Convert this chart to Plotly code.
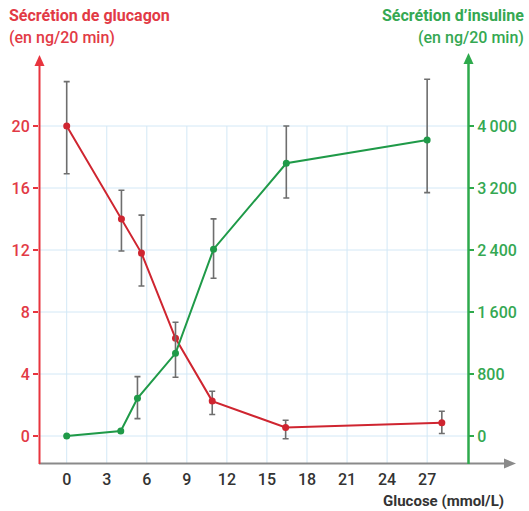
import plotly.graph_objects as go

# ---- data ----
glucose_glucagon = [0, 4.1, 5.6, 8.15, 10.9, 16.4, 28.1]
glucagon = [20.0, 14.0, 11.8, 6.3, 2.25, 0.55, 0.85]
glucagon_err_plus = [2.86, 1.85, 2.45, 0, 0.64, 0.47, 0.75]
glucagon_err_minus = [3.08, 2.06, 2.12, 0, 0.86, 0.73, 0.69]

glucose_insulin = [0, 4.05, 5.3, 8.15, 11.0, 16.45, 27.0]
insulin = [0, 64, 486, 1067, 2410, 3519, 3819]
insulin_err_plus = [0, 0, 280, 400, 392, 481, 784]
insulin_err_minus = [0, 0, 262, 308, 375, 448, 679]

x_ticks = [0, 3, 6, 9, 12, 15, 18, 21, 24, 27]
left_ticks = [0, 4, 8, 12, 16, 20]
right_ticks = [0, 800, 1600, 2400, 3200, 4000]
right_ticktext = ["0", "800", "1\u2009600", "2\u2009400", "3\u2009200", "4\u2009000"]

# ---- styling ----
RED_LINE = "#cf2530"
RED_TXT = "#e23a45"
GREEN_LINE = "#1f9a48"
GREEN_TXT = "#35a852"
GRID = "#d3e8f6"
FONT = "Roboto"

W, H = 529, 511
L, R, T, B = 39, 61, 50, 48
XR = [-2.075, 30.06]
YR = [-1.742, 24.903]
SCALE = 200

fig = go.Figure()

fig.add_trace(go.Scatter(
    x=glucose_glucagon, y=glucagon, mode="lines+markers",
    line=dict(color=RED_LINE, width=2), marker=dict(color=RED_LINE, size=7),
    error_y=dict(type="data", symmetric=False, array=glucagon_err_plus,
                 arrayminus=glucagon_err_minus, color="#6e6e6e", thickness=1.6, width=3),
    showlegend=False, yaxis="y"))

fig.add_trace(go.Scatter(
    x=glucose_insulin, y=insulin, mode="lines+markers",
    line=dict(color=GREEN_LINE, width=2), marker=dict(color=GREEN_LINE, size=7),
    error_y=dict(type="data", symmetric=False, array=insulin_err_plus,
                 arrayminus=insulin_err_minus, color="#6e6e6e", thickness=1.6, width=3),
    showlegend=False, yaxis="y2"))

shapes = []
# grid
for xv in x_ticks:
    shapes.append(dict(type="line", xref="x", yref="y", x0=xv, x1=xv, y0=YR[0], y1=20,
                       line=dict(color=GRID, width=1), layer="below"))
for yv in left_ticks:
    shapes.append(dict(type="line", xref="x", yref="y", x0=XR[0], x1=XR[1], y0=yv, y1=yv,
                       line=dict(color=GRID, width=1), layer="below"))

pw, ph = W - L - R, H - T - B
def px(p):
    return (p - L) / pw
def py(p):
    return (H - B - p) / ph

# x axis with arrow
shapes.append(dict(type="line", xref="paper", yref="paper", x0=px(39), x1=px(508),
                   y0=py(463.5), y1=py(463.5), line=dict(color="#8a8a8a", width=2), layer="above"))
shapes.append(dict(type="path", xref="paper", yref="paper",
                   path=f"M {px(516)},{py(463.5)} L {px(504)},{py(458.5)} L {px(504)},{py(468.5)} Z",
                   fillcolor="#8a8a8a", line=dict(width=0), layer="above"))
# red axis
shapes.append(dict(type="line", xref="paper", yref="paper", x0=px(39.5), x1=px(39.5),
                   y0=py(464), y1=py(64), line=dict(color="#e8343e", width=2), layer="above"))
shapes.append(dict(type="path", xref="paper", yref="paper",
                   path=f"M {px(39.5)},{py(55)} L {px(34.5)},{py(66)} L {px(44.5)},{py(66)} Z",
                   fillcolor="#e8343e", line=dict(width=0), layer="above"))
# green axis
shapes.append(dict(type="line", xref="paper", yref="paper", x0=px(468.5), x1=px(468.5),
                   y0=py(464), y1=py(62), line=dict(color="#2eaa4c", width=2.5), layer="above"))
shapes.append(dict(type="path", xref="paper", yref="paper",
                   path=f"M {px(468.5)},{py(53)} L {px(463.5)},{py(64)} L {px(473.5)},{py(64)} Z",
                   fillcolor="#2eaa4c", line=dict(width=0), layer="above"))

annotations = [
    dict(text="Sécrétion de glucagon", xref="paper", yref="paper", x=px(7), y=py(15),
         xanchor="left", yanchor="middle", showarrow=False,
         font=dict(family=FONT, size=16, color=RED_TXT, weight="bold")),
    dict(text="(en ng/20 min)", xref="paper", yref="paper", x=px(7), y=py(38),
         xanchor="left", yanchor="middle", showarrow=False,
         font=dict(family=FONT, size=16, color=RED_TXT, weight=500)),
    dict(text="Sécrétion d\u2019insuline", xref="paper", yref="paper", x=px(526), y=py(15),
         xanchor="right", yanchor="middle", showarrow=False,
         font=dict(family=FONT, size=16, color=GREEN_TXT, weight="bold")),
    dict(text="(en ng/20 min)", xref="paper", yref="paper", x=px(526), y=py(38),
         xanchor="right", yanchor="middle", showarrow=False,
         font=dict(family=FONT, size=16, color=GREEN_TXT, weight=500)),
    dict(text="Glucose (mmol/L)", xref="paper", yref="paper", x=px(506), y=py(501),
         xanchor="right", yanchor="middle", showarrow=False,
         font=dict(family=FONT, size=15, color="#333333", weight="bold")),
]

fig.update_layout(
    width=W, height=H, margin=dict(l=L, r=R, t=T, b=B, pad=0),
    paper_bgcolor="white", plot_bgcolor="white",
    font=dict(family=FONT),
    shapes=shapes, annotations=annotations,
    xaxis=dict(range=XR, tickvals=x_ticks, showgrid=False, zeroline=False, showline=False,
               ticks="", ticklabelstandoff=5,
               tickfont=dict(size=16, color="#333333", weight=500), fixedrange=True),
    yaxis=dict(range=YR, tickvals=left_ticks, showgrid=False, zeroline=False, showline=False,
               ticks="outside", ticklen=5, tickcolor="#e8343e", tickwidth=1.5,
               tickfont=dict(size=16, color=RED_TXT, weight=500)),
    yaxis2=dict(range=[YR[0] * SCALE, YR[1] * SCALE], tickvals=right_ticks, ticktext=right_ticktext,
                overlaying="y", side="right", showgrid=False, zeroline=False, showline=False,
                ticks="outside", ticklen=5, tickcolor="#2eaa4c", tickwidth=1.5,
                tickfont=dict(size=16, color=GREEN_TXT, weight=500)),
)

fig.write_html("out.html", config={"displayModeBar": False},
               post_script="document.body.style.margin='0px';document.body.style.overflow='hidden';")
